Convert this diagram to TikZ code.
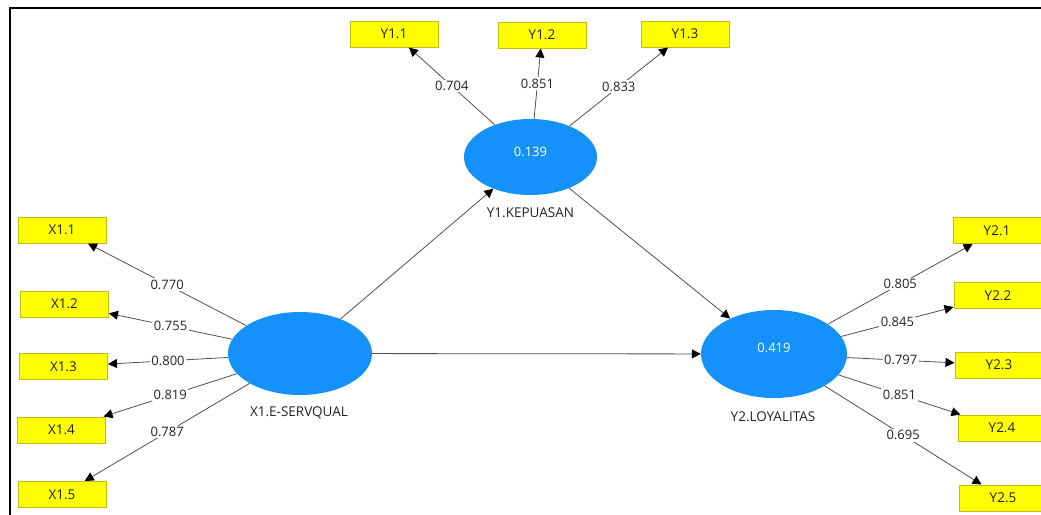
\documentclass[tikz,border=0pt]{standalone}
\usepackage{fontspec}
\setmainfont{Open Sans}
\usetikzlibrary{shapes.geometric,arrows.meta}
\definecolor{boxyellow}{RGB}{255,255,0}
\definecolor{boxedge}{RGB}{190,190,20}
\definecolor{lvblue}{RGB}{20,145,250}
\definecolor{linegray}{RGB}{80,80,80}
\definecolor{txt}{RGB}{35,35,35}
\tikzset{
  mv/.style={draw=boxedge, line width=1pt, fill=boxyellow, minimum width=88pt, minimum height=26pt, inner sep=0pt, font=\fontsize{13.5}{15}\selectfont, text=txt},
  lv/.style={ellipse, fill=lvblue, inner sep=0pt},
  lvval/.style={text=white, font=\fontsize{13}{15}\selectfont, inner sep=0pt},
  lvname/.style={text=txt, font=\fontsize{13.5}{15}\selectfont, inner sep=0pt},
  lbl/.style={fill=white, inner sep=1.5pt, text=txt, font=\fontsize{13}{15}\selectfont},
  conn/.style={draw=linegray, line width=0.8pt, -{Triangle[length=9pt,width=9pt,color=black]}},
}
\begin{document}
\begin{tikzpicture}[x=1pt,y=-1pt]
\useasboundingbox (0,0) rectangle (1041,514);
\fill[white] (0,0) rectangle (1041,514);
\clip (0,0) rectangle (1041,514);
% frame
\draw[line width=2.5pt] (10,8) -- (1045,8);
\draw[line width=2pt] (10,7) -- (10,520);
% latent variables
\node[lv, minimum width=133pt, minimum height=76pt] (Y1) at (530.5,157) {};
\node[lv, minimum width=144pt, minimum height=83pt] (X1) at (300,353.5) {};
\node[lv, minimum width=146pt, minimum height=88pt] (Y2) at (774,354) {};
\node[lvval] (Y1v) at (530.5,152) {0.139};
\node[lvval] (Y2v) at (774,348) {0.419};
\node[lvname] (Y1n) at (530.5,213) {Y1.KEPUASAN};
\node[lvname] (X1n) at (299,413) {X1.E-SERVQUAL};
\node[lvname] (Y2n) at (773,417) {Y2.LOYALITAS};
% indicators
\node[mv] (Y11) at (394,34) {Y1.1};
\node[mv] (Y12) at (542,35) {Y1.2};
\node[mv] (Y13) at (685,34) {Y1.3};
\node[mv] (X11) at (62,230) {X1.1};
\node[mv] (X12) at (64.5,304) {X1.2};
\node[mv] (X13) at (63.5,366.5) {X1.3};
\node[mv] (X14) at (61.5,430) {X1.4};
\node[mv] (X15) at (62,494.5) {X1.5};
\node[mv] (Y21) at (997,230.5) {Y2.1};
\node[mv] (Y22) at (998,295.5) {Y2.2};
\node[mv] (Y23) at (999,365) {Y2.3};
\node[mv] (Y24) at (1002,428) {Y2.4};
\node[mv] (Y25) at (1003,498) {Y2.5};
% structural paths
\draw[conn] (X1) -- (Y1);
\draw[conn] (X1) -- (Y2);
\draw[conn] (Y1) -- (Y2);
% loadings
\draw[conn] (Y1) -- node[lbl] {0.704} (Y11);
\draw[conn] (Y1) -- node[lbl] {0.851} (Y12);
\draw[conn] (Y1) -- node[lbl] {0.833} (Y13);
\draw[conn] (X1) -- node[lbl] {0.770} (X11);
\draw[conn] (X1) -- node[lbl] {0.755} (X12);
\draw[conn] (X1) -- node[lbl] {0.800} (X13);
\draw[conn] (X1) -- node[lbl] {0.819} (X14);
\draw[conn] (X1) -- node[lbl] {0.787} (X15);
\draw[conn] (Y2) -- node[lbl] {0.805} (Y21);
\draw[conn] (Y2) -- node[lbl] {0.845} (Y22);
\draw[conn] (Y2) -- node[lbl] {0.797} (Y23);
\draw[conn] (Y2) -- node[lbl] {0.851} (Y24);
\draw[conn] (Y2) -- node[lbl] {0.695} (Y25);
\end{tikzpicture}
\end{document}
